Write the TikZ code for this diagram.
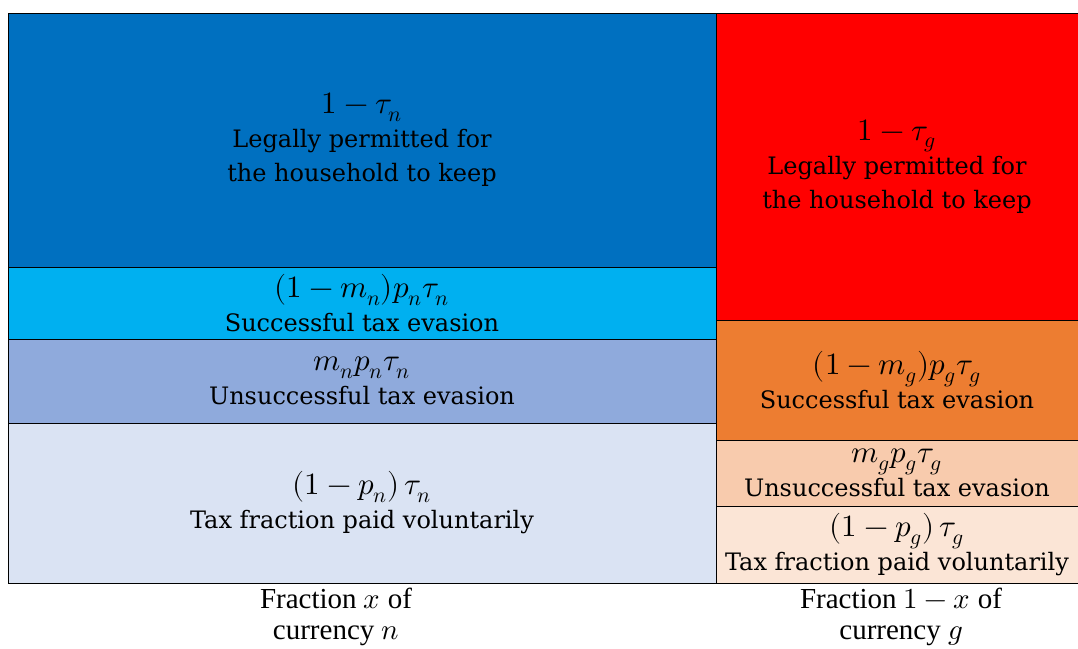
\documentclass[tikz,border=0pt]{standalone}
\usepackage{fontspec}
\usepackage{unicode-math}
\setmainfont{Liberation Serif}
\setmathfont{Latin Modern Math}
\newfontfamily\cellfont{DejaVu Serif}
\newcommand{\formula}[1]{{\fontsize{31}{34}\selectfont$#1$}}
\definecolor{keepN}{HTML}{0070C0}
\definecolor{evadeN}{HTML}{00B0F0}
\definecolor{caughtN}{HTML}{8FAADC}
\definecolor{paidN}{HTML}{DAE3F3}
\definecolor{keepG}{HTML}{FF0000}
\definecolor{evadeG}{HTML}{ED7D31}
\definecolor{caughtG}{HTML}{F8CBAD}
\definecolor{paidG}{HTML}{FBE5D6}
\begin{document}
\begin{tikzpicture}[x=1pt, y=-1pt,
  cell/.style={draw=black, line width=0.8pt, inner sep=0pt, align=center,
    font=\cellfont\fontsize{24}{34}\selectfont},
  lcell/.style={cell, minimum width=708pt},
  rcell/.style={cell, minimum width=362pt},
  caption/.style={align=center, font=\fontsize{29}{31}\selectfont}]
  \useasboundingbox (0,0) rectangle (1078,648);
  % currency n
  \node[lcell, fill=keepN, minimum height=254pt] (keepn) at (362,140) {\formula{1-\tau_n}\\Legally permitted for\\the household to keep};
  \node[lcell, fill=evadeN, minimum height=72pt] (evaden) at (362,303) {\formula{(1-m_n)p_n\tau_n}\\Successful tax evasion};
  \node[lcell, fill=caughtN, minimum height=84pt] (caughtn) at (362,381) {\formula{m_np_n\tau_n}\\Unsuccessful tax evasion};
  \node[lcell, fill=paidN, minimum height=160pt] (paidn) at (362,503) {\formula{(1-p_n)\,\tau_n}\\Tax fraction paid voluntarily};
  % currency g
  \node[rcell, fill=keepG, minimum height=307pt] (keepg) at (897,166.5) {\formula{1-\tau_g}\\Legally permitted for\\the household to keep};
  \node[rcell, fill=evadeG, minimum height=120pt] (evadeg) at (897,380) {\formula{(1-m_g)p_g\tau_g}\\Successful tax evasion};
  \node[rcell, fill=caughtG, minimum height=66pt] (caughtg) at (897,473) {\formula{m_gp_g\tau_g}\\Unsuccessful tax evasion};
  \node[rcell, fill=paidG, minimum height=77pt] (paidg) at (897,544.5) {\formula{(1-p_g)\,\tau_g}\\Tax fraction paid voluntarily};
  % captions
  \node[caption] (capn) at (336,617) {Fraction $x$ of\\currency $n$};
  \node[caption] (capg) at (901,617) {Fraction $1-x$ of\\currency $g$};
\end{tikzpicture}
\end{document}
